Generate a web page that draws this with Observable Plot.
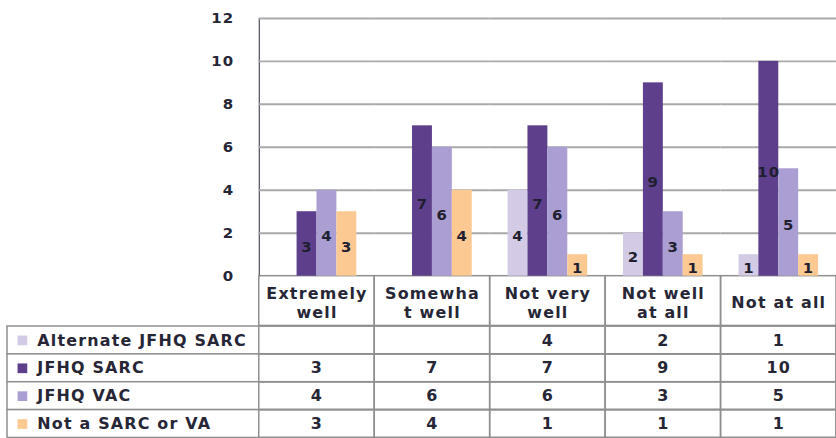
<!DOCTYPE html>
<html><head><meta charset="utf-8">
<script src="https://cdn.jsdelivr.net/npm/d3@7"></script>
<script src="https://cdn.jsdelivr.net/npm/@observablehq/plot@0.6"></script>
<style>
html,body{margin:0;padding:0;overflow:hidden;background:#fff;width:836px;height:438px}
#chart svg{display:block;overflow:visible}
#chart svg text{letter-spacing:1.2px}
</style></head><body><div id="chart"></div>
<script>
const categories = ["Extremely\nwell", "Somewha\nt well", "Not very\nwell", "Not well\nat all", "Not at all"];
const series = ["Alternate JFHQ SARC", "JFHQ SARC", "JFHQ VAC", "Not a SARC or VA"];
const alternateJfhqSarc = [null, null, 4, 2, 1];
const jfhqSarc = [3, 7, 7, 9, 10];
const jfhqVac = [4, 6, 6, 3, 5];
const notSarcOrVa = [3, 4, 1, 1, 1];
const yTicks = [0, 2, 4, 6, 8, 10, 12];
const colors = ["#d3cbe6", "#5d3f8c", "#ab9ed3", "#fcc992"];

const valuesBySeries = [alternateJfhqSarc, jfhqSarc, jfhqVac, notSarcOrVa];
const rows = [];
series.forEach((s, si) => categories.forEach((c, ci) => {
  const v = valuesBySeries[si][ci];
  if (v != null) rows.push({series: s, category: c, value: v});
}));
const tableCells = d3.cross(categories, series).map(([c, s]) => ({category: c, series: s}));

const W = 840;
const grid = "#a9a9a9";
const line = "#8f8f8f";
const baseStyle = {fontFamily: "'DejaVu Sans', sans-serif", fontWeight: "bold", fontSize: "15px", color: "#262636", background: "white", overflow: "visible"};

const chart = Plot.plot({
  width: W, height: 327,
  marginLeft: 260, marginRight: 0, marginTop: 18, marginBottom: 50,
  style: baseStyle,
  fx: {domain: categories, padding: 0, label: null},
  x: {domain: series, paddingInner: 0, paddingOuter: 0.85, axis: null},
  y: {domain: [0, 12], ticks: yTicks, tickSize: 0, tickPadding: 25, label: null, line: true},
  color: {domain: series, range: colors},
  marks: [
    Plot.ruleY(yTicks.filter(d => d > 0), {stroke: grid, strokeWidth: 2}),
    Plot.barY([0], {y1: 0, y2: 0, insetBottom: -50, stroke: line, strokeWidth: 1.5, fill: "none"}),
    Plot.barY(rows, {fx: "category", x: "series", y: "value", fill: "series"}),
    Plot.text(rows, {fx: "category", x: "series", y: d => d.value / 2, text: "value", dy: 3, fontSize: 15, fill: "#1f1f30"}),
    Plot.axisFx({anchor: "bottom", tickSize: 0, tickPadding: 26, lineAnchor: "middle", lineHeight: 1.2, fontSize: 16, label: null})
  ]
});

const table = Plot.plot({
  width: W, height: 114,
  marginLeft: 260, marginRight: 0, marginTop: 0, marginBottom: 0,
  style: {...baseStyle, fontSize: "16px"},
  x: {domain: categories, padding: 0, axis: null},
  y: {domain: series, padding: 0, axis: null},
  color: {domain: series, range: colors},
  marks: [
    Plot.cell(series, {y: d => d, fill: "white", stroke: line, strokeWidth: 1.5, insetLeft: -253}),
    Plot.cell(tableCells, {x: "category", y: "series", fill: "none", stroke: line, strokeWidth: 1.5}),
    Plot.text(rows, {x: "category", y: "series", text: "value", fontSize: 16}),
    Plot.dot(series, {y: d => d, frameAnchor: "left", dx: -238, symbol: "square", r: 5.5, fill: d => d}),
    Plot.text(series, {y: d => d, text: d => d, frameAnchor: "left", textAnchor: "start", dx: -223, fontSize: 16})
  ]
});

d3.select(chart).selectAll('[aria-label="y-axis line"] *, [aria-label="y-axis line"]').attr("stroke", grid).attr("stroke-width", 2);

const root = document.getElementById("chart");
root.append(chart, table);
</script></body></html>
